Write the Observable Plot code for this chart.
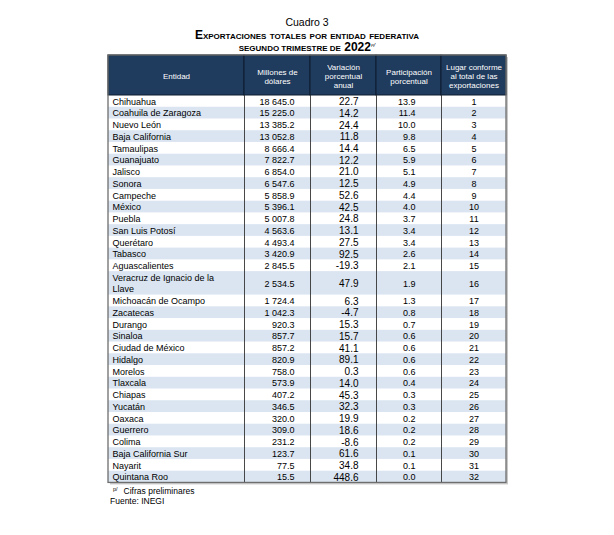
<!DOCTYPE html>
<html lang="es">
<head>
<meta charset="utf-8">
<script src="https://cdn.jsdelivr.net/npm/d3@7"></script>
<script src="https://cdn.jsdelivr.net/npm/@observablehq/plot@0.6"></script>
<style>
  html, body { margin: 0; padding: 0; background: #fff; }
  body { width: 614px; height: 535px; overflow: hidden; font-family: "Liberation Sans", Arial, sans-serif; color: #000; }
  #title { height: 54px; box-sizing: border-box; padding-top: 16px; text-align: center; line-height: 12.5px; }
  #title .c { font-size: 10.5px; }
  #title .sc { font-size: 12px; font-weight: bold; font-variant: small-caps; }
  #title .asc { font-variant-caps: all-small-caps; }
  #title sup { font-size: 6px; font-style: italic; font-weight: normal; vertical-align: 4px; line-height: 0; }
  #chart svg { display: block; }
  #foot { padding-left: 110px; font-size: 8.5px; line-height: 10px; }
  #foot sup { font-size: 5.5px; vertical-align: 3px; line-height: 0; margin-left: 3px; margin-right: 6px; }
</style>
</head>
<body>
<div id="title">
  <div class="c">Cuadro 3</div>
  <div class="sc">Exportaciones totales por entidad federativa</div>
  <div class="sc"><span class="asc">Segundo trimestre de</span> 2022<sup>p/</sup></div>
</div>
<div id="chart"></div>
<div id="foot">
  <div><sup>p/</sup>Cifras preliminares</div>
  <div>Fuente: INEGI</div>
</div>
<script>
// ---- Data ----
const entidades = [
  "Chihuahua", "Coahuila de Zaragoza", "Nuevo León", "Baja California", "Tamaulipas",
  "Guanajuato", "Jalisco", "Sonora", "Campeche", "México", "Puebla", "San Luis Potosí",
  "Querétaro", "Tabasco", "Aguascalientes", "Veracruz de Ignacio de la Llave",
  "Michoacán de Ocampo", "Zacatecas", "Durango", "Sinaloa", "Ciudad de México", "Hidalgo",
  "Morelos", "Tlaxcala", "Chiapas", "Yucatán", "Oaxaca", "Guerrero", "Colima",
  "Baja California Sur", "Nayarit", "Quintana Roo"
];
const millones = [
  18645.0, 15225.0, 13385.2, 13052.8, 8666.4, 7822.7, 6854.0, 6547.6, 5858.9, 5396.1,
  5007.8, 4563.6, 4493.4, 3420.9, 2845.5, 2534.5, 1724.4, 1042.3, 920.3, 857.7,
  857.2, 820.9, 758.0, 573.9, 407.2, 346.5, 320.0, 309.0, 231.2, 123.7, 77.5, 15.5
];
const variacion = [
  22.7, 14.2, 24.4, 11.8, 14.4, 12.2, 21.0, 12.5, 52.6, 42.5,
  24.8, 13.1, 27.5, 92.5, -19.3, 47.9, 6.3, -4.7, 15.3, 15.7,
  41.1, 89.1, 0.3, 14.0, 45.3, 32.3, 19.9, 18.6, -8.6, 61.6, 34.8, 448.6
];
const participacion = [
  13.9, 11.4, 10.0, 9.8, 6.5, 5.9, 5.1, 4.9, 4.4, 4.0,
  3.7, 3.4, 3.4, 2.6, 2.1, 1.9, 1.3, 0.8, 0.7, 0.6,
  0.6, 0.6, 0.6, 0.4, 0.3, 0.3, 0.2, 0.2, 0.2, 0.1, 0.1, 0.0
];
const lugar = [
  1, 2, 3, 4, 5, 6, 7, 8, 9, 10, 11, 12, 13, 14, 15, 16,
  17, 18, 19, 20, 21, 22, 23, 24, 25, 26, 27, 28, 29, 30, 31, 32
];
const encabezados = [
  "Entidad",
  "Millones de\ndólares",
  "Variación\nporcentual\nanual",
  "Participación\nporcentual",
  "Lugar conforme\nal total de las\nexportaciones"
];

// ---- Layout (table geometry in table units = px) ----
const TABLE_W = 398, HEADER_H = 40, ROW_H = 11.74;
const colEdges = [0, 136, 202, 268, 333, 398];
const colStyle = [
  {key: "entidad", anchor: "start", pad: 4, size: 9},
  {key: "millones", anchor: "end", pad: 16, size: 9},
  {key: "variacion", anchor: "end", pad: 18, size: 10},
  {key: "participacion", anchor: "end", pad: 26, size: 9},
  {key: "lugar", anchor: "middle", pad: 0, size: 9}
];
const cols = colStyle.map((c, i) => ({...c, label: encabezados[i], x0: colEdges[i], x1: colEdges[i + 1]}));

const loc = d3.formatLocale({decimal: ".", thousands: "\u00a0", grouping: [3], minus: "-", currency: ["", ""]});
const fMill = loc.format(",.1f"), f1 = loc.format(".1f");

// rows with cumulative vertical position (long names wrap to two lines)
let acc = HEADER_H;
const rows = entidades.map((e, i) => {
  const lines = e.length > 26 ? 2 : 1;
  const y0 = acc, y1 = acc + lines * ROW_H;
  acc = y1;
  return {
    i, entidad: e,
    millones: fMill(millones[i]),
    variacion: f1(variacion[i]),
    participacion: f1(participacion[i]),
    lugar: String(lugar[i]),
    y0, y1, ym: (y0 + y1) / 2
  };
});
const BOTTOM = acc;
const table = [{x0: 0, x1: TABLE_W, y0: 0, y1: BOTTOM}];

const textX = c => c.anchor === "start" ? c.x0 : c.anchor === "end" ? c.x1 : (c.x0 + c.x1) / 2;
const textDx = c => c.anchor === "start" ? c.pad : c.anchor === "end" ? -c.pad : 0;

const bodyText = cols.map(c => Plot.text(rows, {
  x: () => textX(c), dx: textDx(c), y: "ym", text: c.key,
  textAnchor: c.anchor, fontSize: c.size, fill: "#000",
  lineWidth: c.key === "entidad" ? 13 : undefined, lineHeight: 1.15
}));

const plot = Plot.plot({
  width: 614,
  height: 432,
  style: {fontFamily: "'Liberation Sans', Arial, sans-serif", background: "white"},
  x: {domain: [0, TABLE_W], range: [108, 506], axis: null},
  y: {domain: [0, 432], range: [1, 433], axis: null},
  marks: [
    // shadow
    Plot.rect(table, {x1: "x0", x2: "x1", y1: "y0", y2: "y1", fill: "#c8c8c8", dx: 2, dy: 2}),
    // background
    Plot.rect(table, {x1: "x0", x2: "x1", y1: "y0", y2: "y1", fill: "white"}),
    // stripes
    Plot.rect(rows.filter(r => r.i % 2 === 1), {x1: () => 0, x2: () => TABLE_W, y1: "y0", y2: "y1", fill: "#dbe5f1"}),
    // header cells
    Plot.rect(cols, {x1: "x0", x2: "x1", y1: () => 0, y2: () => HEADER_H, fill: "#1f3b5d", stroke: "#0c1c30", strokeWidth: 1}),
    // body column separators
    Plot.ruleX(cols.slice(1), {x: "x0", y1: () => HEADER_H, y2: () => BOTTOM, stroke: "#333", strokeWidth: 0.9}),
    // header labels
    Plot.text(cols, {x: c => (c.x0 + c.x1) / 2, y: () => HEADER_H / 2 + 1, text: "label", fill: "white", fontSize: 8, lineHeight: 1.13}),
    ...bodyText,
    // frame
    Plot.rect(table, {x1: "x0", x2: "x1", y1: "y0", y2: "y1", fill: "none", stroke: "#6e6e6e", strokeWidth: 1.3})
  ]
});
document.getElementById("chart").appendChild(plot);
</script>
</body>
</html>
